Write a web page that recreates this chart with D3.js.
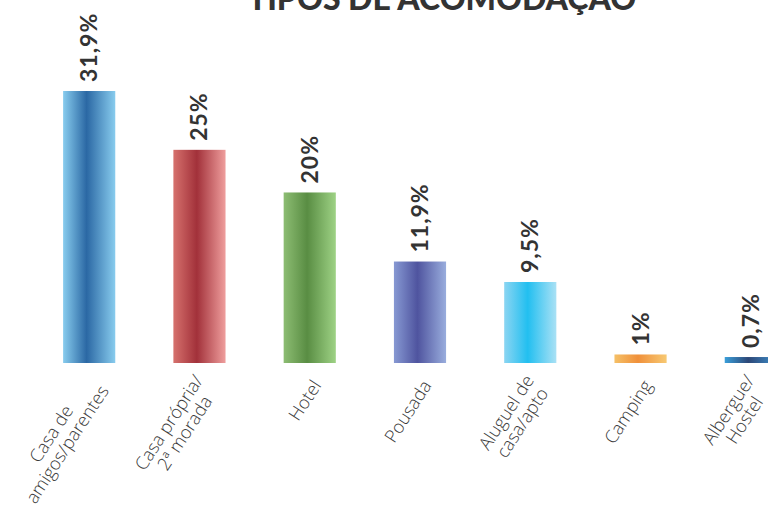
<!DOCTYPE html>
<html>
<head>
<meta charset="utf-8">
<script src="https://cdn.jsdelivr.net/npm/d3@7"></script>
<style>
  html, body { margin: 0; padding: 0; background: #ffffff; }
  svg { display: block; }
</style>
</head>
<body>
<script>
const title = "TIPOS DE ACOMODAÇÃO";
const categories = ["Casa de amigos/parentes", "Casa própria/ 2ª morada", "Hotel", "Pousada", "Aluguel de casa/apto", "Camping", "Albergue/ Hostel"];
const categoryLines = [["Casa de", "amigos/parentes"], ["Casa própria/", "2ª morada"], ["Hotel"], ["Pousada"], ["Aluguel de", "casa/apto"], ["Camping"], ["Albergue/", "Hostel"]];
const values = [31.9, 25, 20, 11.9, 9.5, 1, 0.7];
const valueLabels = ["31,9%", "25%", "20%", "11,9%", "9,5%", "1%", "0,7%"];
const gradientStops = [
  ["#88ccee", "#2b68a4", "#88ccee"],
  ["#d6716d", "#a2313a", "#ef9e9d"],
  ["#8dbd73", "#598d43", "#9ed285"],
  ["#8799d3", "#4f549f", "#99addd"],
  ["#8bd5f2", "#22bff0", "#aae1f5"],
  ["#f5c067", "#f0903a", "#f7c973"],
  ["#3a9ed9", "#2c4777", "#3f90cc"]
];
const stopOffsets = [0, 0.45, 1];

const W = 768, H = 517;
const baseline = 363;

const svg = d3.select("body").append("svg").attr("width", W).attr("height", H);
svg.append("rect").attr("width", W).attr("height", H).attr("fill", "#fff");

const defs = svg.append("defs");
gradientStops.forEach((cols, i) => {
  const g = defs.append("linearGradient").attr("id", "grad" + i)
    .attr("x1", "0%").attr("x2", "100%").attr("y1", "0%").attr("y2", "0%");
  cols.forEach((c, j) => g.append("stop").attr("offset", stopOffsets[j]).attr("stop-color", c));
});

const x = d3.scaleBand().domain(categories).range([34, 806]).paddingInner(0.527).paddingOuter(0.264);
const y = d3.scaleLinear().domain([0, 31.9]).range([baseline, baseline - 272]);

// Title
svg.append("text").attr("x", 442).attr("y", 10)
  .attr("text-anchor", "middle")
  .attr("font-family", "Lato, 'Open Sans', sans-serif")
  .attr("font-weight", 900)
  .attr("font-size", 32)
  .attr("fill", "#333")
  .text(title);

// Bars
svg.selectAll("rect.bar").data(values).enter().append("rect")
  .attr("class", "bar")
  .attr("x", (d, i) => x(categories[i]))
  .attr("width", x.bandwidth())
  .attr("y", d => y(d))
  .attr("height", d => baseline - y(d))
  .attr("fill", (d, i) => `url(#grad${i})`);

// Value labels
svg.selectAll("text.val").data(values).enter().append("text")
  .attr("class", "val")
  .attr("transform", (d, i) => `translate(${x(categories[i]) + x.bandwidth() / 2 + 8},${y(d) - 9}) rotate(-90)`)
  .attr("text-anchor", "start")
  .attr("font-family", "Lato, 'Open Sans', sans-serif")
  .attr("font-weight", 700)
  .attr("font-size", 23)
  .attr("letter-spacing", 1)
  .attr("fill", "#333")
  .text((d, i) => valueLabels[i]);

// Category labels
const lh = 19;
categoryLines.forEach((lines, i) => {
  const cx = x(categories[i]) + x.bandwidth() / 2;
  const g = svg.append("g")
    .attr("transform", `translate(${cx + 7},${baseline + 19}) rotate(-57)`);
  const texts = lines.map((ln, k) => g.append("text")
    .attr("font-family", "'Open Sans', Lato, sans-serif")
    .attr("font-weight", 300)
    .attr("font-size", 18)
    .attr("fill", "#3a3a3a")
    .attr("text-anchor", "middle")
    .attr("y", (k - (lines.length - 1) / 2) * lh)
    .attr("dy", "0.35em")
    .text(ln));
  const maxW = d3.max(texts, t => t.node().getComputedTextLength());
  texts.forEach(t => t.attr("x", -maxW / 2));
});
</script>
</body>
</html>
